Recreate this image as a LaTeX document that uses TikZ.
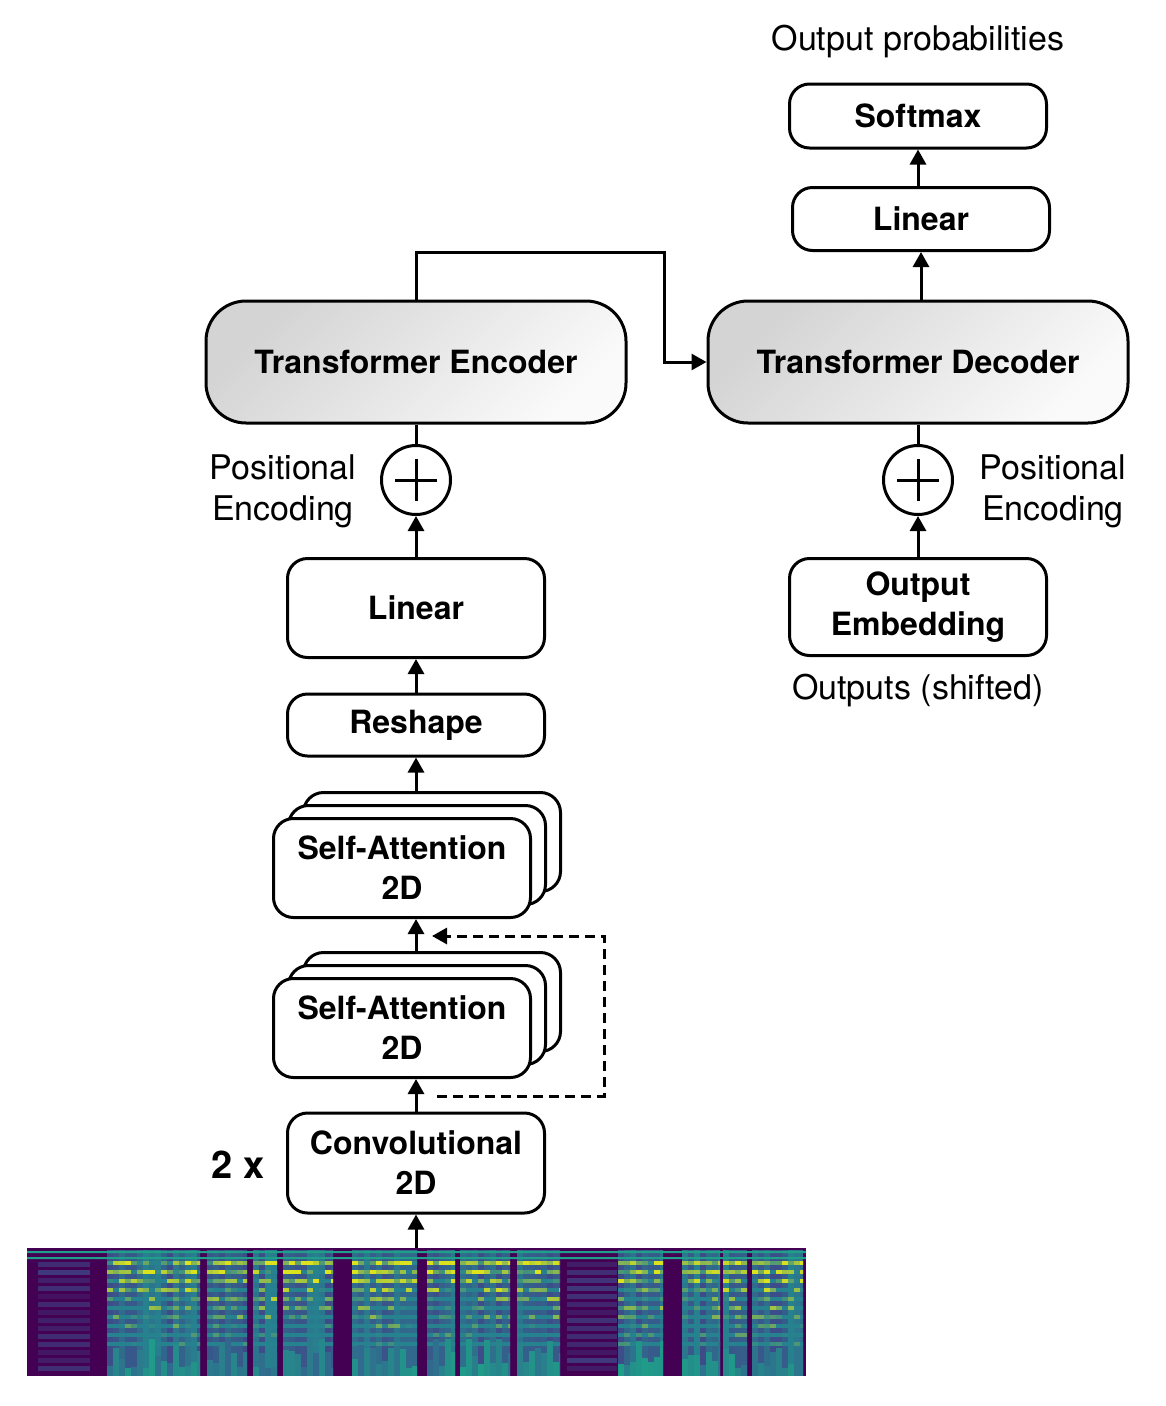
\documentclass[tikz,border=0pt]{standalone}
\usepackage{fontspec}
\setmainfont{TeX Gyre Heros}
\usetikzlibrary{arrows.meta}

% viridis colours for the spectrogram
\definecolor{vd}{RGB}{68,1,84}
\definecolor{v2}{RGB}{72,40,120}
\definecolor{v3}{RGB}{62,74,137}
\definecolor{v4}{RGB}{49,104,142}
\definecolor{v5}{RGB}{38,130,142}
\definecolor{v6}{RGB}{31,158,137}
\definecolor{v7}{RGB}{80,195,105}
\definecolor{v9}{RGB}{220,227,30}

\tikzset{
  txt/.style={font=\fontsize{34}{41}\selectfont, align=center},
  blk/.style={align=center, font=\fontsize{32}{40}\selectfont\bfseries, draw, line width=3pt,
    rounded corners=20pt, fill=white, minimum width=257pt, inner sep=0pt},
  tfm/.style={blk, rounded corners=40pt, minimum width=420pt, minimum height=122pt,
    top color=black!17, bottom color=black!2, shading angle=45},
  addop/.style={draw, circle, line width=3pt, minimum size=69pt, fill=white,
    path picture={\draw[line width=3pt]
      ([xshift=-21pt]path picture bounding box.center) -- ([xshift=21pt]path picture bounding box.center)
      ([yshift=-21pt]path picture bounding box.center) -- ([yshift=21pt]path picture bounding box.center);}},
  ln/.style={line width=3pt},
  arr/.style={ln, -{Triangle[length=15pt,width=16pt]}},
}

\begin{document}
\begin{tikzpicture}[x=1pt,y=-1pt]
\useasboundingbox (0,0) rectangle (1166,1406);
\pgfmathsetseed{11}

% spectrogram of the input
\fill[vd] (27,1248) rectangle (806,1376);
\foreach \a/\b in {38/90,567/617}
  \foreach \y in {1262,1270,...,1366}{
    \pgfmathsetmacro\q{int(20+rnd*60)}
    \fill[fill=v3!\q!vd] (\a,\y) rectangle (\b,\y+5);
  }
\foreach \a/\b in {107/200,207/247,253/277,283/333,352/417,427/455,460/510,517/560,618/663,682/720,723/747,752/803}{
  \begin{scope}
  \clip (\a,1250) rectangle (\b,1376);
  \pgfmathsetmacro\nx{\a+6}
  \foreach \x in {\a,\nx,...,\b}{
    \pgfmathsetmacro\q{int(rnd*100)}
    \fill[fill=v5!\q!v3] (\x,1250) rectangle (\x+6,1376);
    \foreach \k in {0,...,9}{
      \pgfmathsetmacro\p{int(max(0,min(100,rnd*130-12*\k)))}
      \fill[fill=v9!\p!v5] (\x,1261+\k*9) rectangle (\x+6,1265+\k*9);
    }
    \pgfmathsetmacro\h{int(8+rnd*30)}
    \pgfmathsetmacro\r{int(rnd*100)}
    \fill[fill=v6!\r!v4] (\x,1376-\h) rectangle (\x+6,1376);
  }
  \end{scope}
}
\fill[v6] (27,1251) rectangle (806,1253) (27,1257) rectangle (806,1259);
\coordinate (spec) at (416,1248);

% encoder side
\node[blk, minimum height=100pt] (conv) at (416,1163) {Convolutional\\2D};
\node[font=\fontsize{38}{40}\selectfont\bfseries] (times) at (238,1165) {2 x};
\foreach \k in {2,1}
  \node[blk, minimum height=99pt] (sab\k) at (402+15*\k,1028-13*\k) {};
\node[blk, minimum height=99pt] (sab) at (402,1028) {Self-Attention\\2D};
\foreach \k in {2,1}
  \node[blk, minimum height=99pt] (sat\k) at (402+15*\k,868-13*\k) {};
\node[blk, minimum height=99pt] (sat) at (402,868) {Self-Attention\\2D};
\node[blk, minimum height=62pt] (reshape) at (416,725) {Reshape};
\node[blk, minimum height=99pt] (linenc) at (416,608) {Linear};
\node[addop] (addenc) at (416,480) {};
\node[txt] (posenc) at (283,491) {Positional\\Encoding};
\node[tfm] (enc) at (416,362) {Transformer Encoder};

% decoder side
\node[blk, minimum height=97pt] (emb) at (918,607) {Output\\Embedding};
\node[txt] (shifted) at (918,690) {Outputs (shifted)};
\node[addop] (adddec) at (918,480) {};
\node[txt] (posdec) at (1053,491) {Positional\\Encoding};
\node[tfm] (dec) at (918,362) {Transformer Decoder};
\node[blk, minimum height=63pt] (lindec) at (921,219) {Linear};
\node[blk, minimum height=64pt] (softmax) at (918,116) {Softmax};
\node[txt] (probs) at (918,42) {Output probabilities};

% connectors
\draw[arr] (spec) -- (conv.south);
\draw[arr] (conv.north) -- (conv.north |- sab.south);
\draw[arr] (conv.north |- sab2.north) -- (conv.north |- sat.south);
\draw[arr] (conv.north |- sat2.north) -- (reshape.south);
\draw[arr] (reshape) -- (linenc);
\draw[arr] (linenc) -- (addenc);
\draw[ln] (addenc) -- (enc);
\coordinate (skipin) at (437,1096);
\coordinate (skipout) at (432,936);
\draw[arr, dash pattern=on 10pt off 6pt] (skipin) -- (604,1096) |- (skipout);
\coordinate (bend) at (664,252);
\draw[arr] (enc.north) |- (bend) |- (dec.west);
\draw[arr] (emb) -- (adddec);
\draw[ln] (adddec) -- (dec);
\draw[arr] (dec.north -| lindec) -- (lindec.south);
\draw[arr] (lindec.north -| softmax) -- (softmax.south);
\end{tikzpicture}
\end{document}
